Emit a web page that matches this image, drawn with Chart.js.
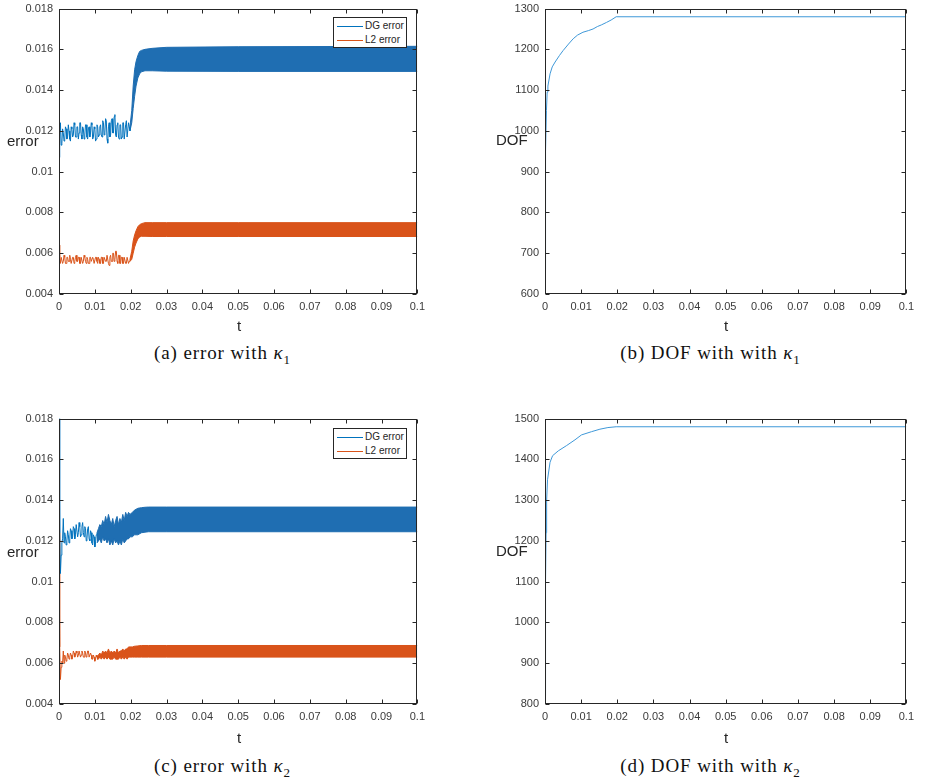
<!DOCTYPE html>
<html lang="en">
<head>
<meta charset="UTF-8">
<title>error and DOF</title>
<script src="https://cdn.jsdelivr.net/npm/chart.js@4.4.0/dist/chart.umd.min.js"></script>
<style>
  body { margin: 0; background: #fff; }
  #page { position: relative; width: 926px; height: 781px; overflow: hidden; font-family: "Liberation Sans", Arial, sans-serif; }
  canvas { position: absolute; }
  .ylab { position: absolute; font-size: 15px; line-height: 18px; color: #262626; }
  .xlab { position: absolute; width: 40px; margin-left: -20px; text-align: center; font-size: 15px; line-height: 18px; color: #262626; }
  .cap { position: absolute; width: 340px; margin-left: -170px; text-align: center; font-family: "Liberation Serif", "DejaVu Serif", serif; font-size: 19px; letter-spacing: 0.9px; line-height: 22px; color: #111; }
  .cap sub { font-size: 13px; letter-spacing: 0; }
  .legend { position: absolute; width: 72px; height: 29px; border: 1px solid #262626; background: #fff; font-size: 10px; color: #262626; }
  .legend .row { position: relative; height: 14px; line-height: 14px; padding-left: 31px; }
  .legend .row:first-child { margin-top: 1px; }
  .legend .smp { position: absolute; left: 3px; top: 7px; width: 26px; height: 0; border-top: 1px solid; }
</style>
</head>
<body>
<div id="page">
  <canvas id="chartA"></canvas>
  <canvas id="chartB"></canvas>
  <canvas id="chartC"></canvas>
  <canvas id="chartD"></canvas>

  <div class="ylab" style="left:7px; top:132px;">error</div>
  <div class="ylab" style="left:496px; top:131px;">DOF</div>
  <div class="ylab" style="left:7px; top:543px;">error</div>
  <div class="ylab" style="left:496px; top:542px;">DOF</div>

  <div class="xlab" style="left:239px; top:317px;">t</div>
  <div class="xlab" style="left:726px; top:317px;">t</div>
  <div class="xlab" style="left:239px; top:729px;">t</div>
  <div class="xlab" style="left:726px; top:729px;">t</div>

  <div class="cap" style="left:222px; top:342px;">(a) error with <i>κ</i><sub>1</sub></div>
  <div class="cap" style="left:710px; top:342px;">(b) DOF with with <i>κ</i><sub>1</sub></div>
  <div class="cap" style="left:222px; top:755px;">(c) error with <i>κ</i><sub>2</sub></div>
  <div class="cap" style="left:710px; top:755px;">(d) DOF with with <i>κ</i><sub>2</sub></div>

  <div class="legend" style="left:333px; top:17px;">
    <div class="row"><span class="smp" style="color:#0072BD"></span>DG error</div>
    <div class="row"><span class="smp" style="color:#D95319"></span>L2 error</div>
  </div>
  <div class="legend" style="left:333px; top:428px;">
    <div class="row"><span class="smp" style="color:#0072BD"></span>DG error</div>
    <div class="row"><span class="smp" style="color:#D95319"></span>L2 error</div>
  </div>
</div>

<script>
// axis ticks
const xTickValues = [0, 0.01, 0.02, 0.03, 0.04, 0.05, 0.06, 0.07, 0.08, 0.09, 0.1];
const xTickLabels = ['0', '0.01', '0.02', '0.03', '0.04', '0.05', '0.06', '0.07', '0.08', '0.09', '0.1'];
const errTickValues = [0.004, 0.006, 0.008, 0.01, 0.012, 0.014, 0.016, 0.018];
const errTickLabels = ['0.004', '0.006', '0.008', '0.01', '0.012', '0.014', '0.016', '0.018'];
const dofTickValuesB = [600, 700, 800, 900, 1000, 1100, 1200, 1300];
const dofTickLabelsB = ['600', '700', '800', '900', '1000', '1100', '1200', '1300'];
const dofTickValuesD = [800, 900, 1000, 1100, 1200, 1300, 1400, 1500];
const dofTickLabelsD = ['800', '900', '1000', '1100', '1200', '1300', '1400', '1500'];

// (a) error with kappa1 : noisy start, t = 0 .. 0.0198
const tEarlyA = [0, 0.0002, 0.0004, 0.0006, 0.0008, 0.001, 0.0012, 0.0014, 0.0016, 0.0018,
  0.002, 0.0022, 0.0024, 0.0026, 0.0028, 0.003, 0.0032, 0.0034, 0.0036, 0.0038,
  0.004, 0.0042, 0.0044, 0.0046, 0.0048, 0.005, 0.0052, 0.0054, 0.0056, 0.0058,
  0.006, 0.0062, 0.0064, 0.0066, 0.0068, 0.007, 0.0072, 0.0074, 0.0076, 0.0078,
  0.008, 0.0082, 0.0084, 0.0086, 0.0088, 0.009, 0.0092, 0.0094, 0.0096, 0.0098,
  0.01, 0.0102, 0.0104, 0.0106, 0.0108, 0.011, 0.0112, 0.0114, 0.0116, 0.0118,
  0.012, 0.0122, 0.0124, 0.0126, 0.0128, 0.013, 0.0132, 0.0134, 0.0136, 0.0138,
  0.014, 0.0142, 0.0144, 0.0146, 0.0148, 0.015, 0.0152, 0.0154, 0.0156, 0.0158,
  0.016, 0.0162, 0.0164, 0.0166, 0.0168, 0.017, 0.0172, 0.0174, 0.0176, 0.0178,
  0.018, 0.0182, 0.0184, 0.0186, 0.0188, 0.019, 0.0192, 0.0194, 0.0196, 0.0198];
const dgEarlyA = [0.0107, 0.0118, 0.0124, 0.0113, 0.0114, 0.0121, 0.0119, 0.0115, 0.0116, 0.0122,
  0.0121, 0.0116, 0.0117, 0.0123, 0.0120, 0.0116, 0.0115, 0.0122, 0.0121, 0.0117,
  0.0118, 0.0124, 0.0123, 0.0117, 0.0117, 0.0122, 0.0122, 0.0116, 0.0119, 0.0124,
  0.0124, 0.0118, 0.0116, 0.0122, 0.0121, 0.0116, 0.0118, 0.0123, 0.0123, 0.0117,
  0.0116, 0.0121, 0.0122, 0.0117, 0.0119, 0.0124, 0.0123, 0.0116, 0.0117, 0.0122,
  0.0121, 0.0115, 0.0116, 0.0123, 0.0122, 0.0117, 0.0118, 0.0122, 0.0123, 0.0118,
  0.0117, 0.0125, 0.0124, 0.0118, 0.0119, 0.0126, 0.0125, 0.0116, 0.0114, 0.0122,
  0.0124, 0.0117, 0.0118, 0.0125, 0.0126, 0.0119, 0.0119, 0.0127, 0.0128, 0.0118,
  0.0117, 0.0123, 0.0124, 0.0117, 0.0116, 0.0123, 0.0123, 0.0116, 0.0117, 0.0124,
  0.0124, 0.0116, 0.0116, 0.0123, 0.0125, 0.0117, 0.0117, 0.0124, 0.0122, 0.0120];
const l2EarlyA = [0.0064, 0.0058, 0.0055, 0.0058, 0.0058, 0.0055, 0.0056, 0.0059, 0.0058, 0.0055,
  0.0055, 0.0058, 0.0058, 0.0056, 0.0056, 0.0059, 0.0057, 0.0055, 0.0055, 0.0058,
  0.0058, 0.0055, 0.0056, 0.0058, 0.0059, 0.0056, 0.0056, 0.0058, 0.0058, 0.0055,
  0.0055, 0.0058, 0.0058, 0.0055, 0.0056, 0.0059, 0.0058, 0.0056, 0.0055, 0.0058,
  0.0057, 0.0055, 0.0055, 0.0058, 0.0058, 0.0056, 0.0056, 0.0058, 0.0057, 0.0055,
  0.0055, 0.0058, 0.0058, 0.0056, 0.0055, 0.0058, 0.0057, 0.0055, 0.0055, 0.0058,
  0.0058, 0.0055, 0.0055, 0.0058, 0.0058, 0.0056, 0.0056, 0.0059, 0.0059, 0.0055,
  0.0054, 0.0058, 0.0059, 0.0056, 0.0056, 0.0060, 0.0060, 0.0056, 0.0057, 0.0061,
  0.0061, 0.0056, 0.0055, 0.0059, 0.0059, 0.0055, 0.0055, 0.0058, 0.0058, 0.0055,
  0.0055, 0.0058, 0.0058, 0.0055, 0.0055, 0.0058, 0.0058, 0.0055, 0.0056, 0.0057];
// (a) oscillation band: upper / lower envelopes
const tBandA = [0.0198, 0.0203, 0.0207, 0.0211, 0.0215, 0.022, 0.0225, 0.023, 0.024, 0.026, 0.03, 0.05, 0.1];
const dgUpA = [0.0122, 0.0130, 0.0142, 0.0150, 0.0154, 0.0157, 0.0159, 0.01595, 0.0160, 0.01605, 0.0161, 0.01613, 0.01615];
const dgLoA = [0.0120, 0.0124, 0.0131, 0.0137, 0.0142, 0.0146, 0.0148, 0.0149, 0.01495, 0.01495, 0.01493, 0.01492, 0.01492];
const l2UpA = [0.0057, 0.0061, 0.0066, 0.0069, 0.0071, 0.0073, 0.0074, 0.00745, 0.0075, 0.0075, 0.0075, 0.0075, 0.0075];
const l2LoA = [0.0056, 0.0057, 0.0060, 0.0063, 0.0065, 0.0067, 0.0068, 0.00683, 0.00683, 0.00682, 0.00682, 0.00682, 0.00682];

// (b) DOF with kappa1
const tDofB = [0, 0.0001, 0.0002, 0.0004, 0.0006, 0.0008, 0.0014, 0.002, 0.0028, 0.004, 0.005, 0.0065,
  0.0078, 0.009, 0.0105, 0.012, 0.0133, 0.0145, 0.0156, 0.017, 0.0183, 0.0197, 0.1];
const dofB = [660, 800, 950, 1050, 1095, 1110, 1140, 1157, 1169, 1185, 1197, 1213,
  1226, 1235, 1242, 1246, 1250, 1256, 1260, 1266, 1272, 1280, 1280];

// (c) error with kappa2 : noisy start, t = 0 .. 0.0106
const tEarlyC = [0, 0.0002, 0.0004, 0.0006, 0.0008, 0.001, 0.0012, 0.0014, 0.0016, 0.0018,
  0.002, 0.0022, 0.0024, 0.0026, 0.0028, 0.003, 0.0032, 0.0034, 0.0036, 0.0038,
  0.004, 0.0042, 0.0044, 0.0046, 0.0048, 0.005, 0.0052, 0.0054, 0.0056, 0.0058,
  0.006, 0.0062, 0.0064, 0.0066, 0.0068, 0.007, 0.0072, 0.0074, 0.0076, 0.0078,
  0.008, 0.0082, 0.0084, 0.0086, 0.0088, 0.009, 0.0092, 0.0094, 0.0096, 0.0098,
  0.01, 0.0102, 0.0104, 0.0106];
const dgEarlyC = [0.0180, 0.0124, 0.0104, 0.0113, 0.0119, 0.0121, 0.0131, 0.0119, 0.0124, 0.0122,
  0.0118, 0.0120, 0.0125, 0.0123, 0.0119, 0.0121, 0.0126, 0.0125, 0.0121, 0.0122,
  0.0127, 0.0126, 0.0121, 0.0123, 0.0128, 0.0128, 0.0122, 0.0124, 0.0129, 0.0127,
  0.0122, 0.0123, 0.0127, 0.0129, 0.0124, 0.0122, 0.0127, 0.0126, 0.0120, 0.0121,
  0.0126, 0.0127, 0.0121, 0.0120, 0.0125, 0.0124, 0.0119, 0.0118, 0.0123, 0.0122,
  0.0117, 0.0119, 0.0123, 0.0124];
const l2EarlyC = [0.0124, 0.0068, 0.0052, 0.0058, 0.0061, 0.0060, 0.0066, 0.0060, 0.0064, 0.0063,
  0.0061, 0.0062, 0.0065, 0.0064, 0.0062, 0.0063, 0.0065, 0.0064, 0.0062, 0.0063,
  0.0066, 0.0065, 0.0063, 0.0064, 0.0066, 0.0065, 0.0063, 0.0064, 0.0066, 0.0066,
  0.0063, 0.0064, 0.0066, 0.0065, 0.0063, 0.0063, 0.0066, 0.0065, 0.0063, 0.0064,
  0.0066, 0.0066, 0.0063, 0.0063, 0.0065, 0.0064, 0.0062, 0.0062, 0.0064, 0.0063,
  0.0061, 0.0062, 0.0064, 0.0063];
// (c) oscillation band
const tBandC = [0.0106, 0.011, 0.0114, 0.0118, 0.0122, 0.0126, 0.013, 0.0134, 0.0138, 0.0142,
  0.0146, 0.015, 0.0154, 0.0158, 0.0162, 0.0166, 0.017, 0.0174, 0.0178, 0.0182,
  0.0186, 0.019, 0.0194, 0.0198, 0.0205, 0.021, 0.022, 0.023, 0.024, 0.025, 0.03, 0.1];
const dgUpC = [0.0124, 0.0126, 0.0128, 0.0127, 0.0130, 0.0128, 0.0132, 0.0129, 0.0133, 0.0130,
  0.0128, 0.0131, 0.0127, 0.0130, 0.0132, 0.0128, 0.0131, 0.0129, 0.0133, 0.0130,
  0.0134, 0.0132, 0.0134, 0.0133, 0.0134, 0.0135, 0.0136, 0.01363, 0.01365, 0.01366, 0.01366, 0.01366];
const dgLoC = [0.0119, 0.0120, 0.0121, 0.0119, 0.0122, 0.0120, 0.0121, 0.0119, 0.0121, 0.0118,
  0.0120, 0.0118, 0.0121, 0.0119, 0.0120, 0.0118, 0.0120, 0.0118, 0.0121, 0.0119,
  0.0120, 0.0121, 0.0121, 0.0122, 0.0122, 0.0123, 0.0123, 0.0124, 0.01243, 0.01245, 0.01245, 0.01245];
const l2UpC = [0.0063, 0.0064, 0.0065, 0.0064, 0.0066, 0.0065, 0.0066, 0.0065, 0.0067, 0.0065,
  0.0066, 0.0065, 0.0066, 0.0065, 0.0067, 0.0065, 0.0066, 0.0066, 0.0067, 0.0066,
  0.0067, 0.0067, 0.0068, 0.0068, 0.0068, 0.00683, 0.00685, 0.00687, 0.00687, 0.00687, 0.00687, 0.00687];
const l2LoC = [0.0062, 0.0062, 0.0063, 0.0062, 0.0063, 0.0062, 0.0063, 0.0062, 0.0063, 0.0062,
  0.0062, 0.0062, 0.0063, 0.0062, 0.0062, 0.0062, 0.0063, 0.0062, 0.0063, 0.0062,
  0.0063, 0.0062, 0.0063, 0.0063, 0.0063, 0.0063, 0.0063, 0.0063, 0.0063, 0.0063, 0.0063, 0.0063];

// (d) DOF with kappa2
const tDofD = [0, 0.0001, 0.0002, 0.0003, 0.00045, 0.0007, 0.0014, 0.0021, 0.0037, 0.006, 0.0083,
  0.0101, 0.0129, 0.0152, 0.0174, 0.0197, 0.1];
const dofD = [820, 950, 1100, 1220, 1300, 1350, 1393, 1409, 1421, 1434, 1448,
  1460, 1468, 1474, 1478, 1480, 1480];

const BLUE = '#0072BD', BLUE_FILL = '#1F6EB2';
const ORANGE = '#D95319', ORANGE_FILL = '#D9531A';
const DOF_BLUE = '#3F98D8';
const tickColor = '#3a3a3a';
const tickFont = { family: '"Liberation Sans", Arial, sans-serif', size: 11 };

const pts = (xs, ys) => xs.map((x, i) => ({ x: x, y: ys[i] }));

// box round the axes with inward ticks on all four sides
const frame = {
  id: 'frame',
  afterDatasetsDraw(chart) {
    const { ctx, chartArea: a, scales: { x, y } } = chart;
    const L = Math.round(a.left) + 0.5, R = Math.round(a.right) - 0.5;
    const T = Math.round(a.top) + 0.5, B = Math.round(a.bottom) - 0.5;
    ctx.save();
    ctx.strokeStyle = '#262626';
    ctx.lineWidth = 1;
    ctx.strokeRect(L, T, R - L, B - T);
    ctx.beginPath();
    x.ticks.forEach(t => {
      const p = Math.round(x.getPixelForValue(t.value)) + 0.5;
      ctx.moveTo(p, B); ctx.lineTo(p, B - 4);
      ctx.moveTo(p, T); ctx.lineTo(p, T + 4);
    });
    y.ticks.forEach(t => {
      const p = Math.round(y.getPixelForValue(t.value)) + 0.5;
      ctx.moveTo(L, p); ctx.lineTo(L + 4, p);
      ctx.moveTo(R, p); ctx.lineTo(R - 4, p);
    });
    ctx.stroke();
    ctx.restore();
  }
};

function makePanel(id, box, datasets, yValues, yLabels) {
  const cv = document.getElementById(id);
  const left = box.l - 60, top = box.t - 10;
  cv.width = box.r - left + 12;
  cv.height = box.b - top + 28;
  cv.style.left = left + 'px';
  cv.style.top = top + 'px';
  return new Chart(cv, {
    type: 'line',
    data: { datasets: datasets },
    options: {
      responsive: false,
      animation: false,
      devicePixelRatio: 1,
      layout: { padding: { top: 10, right: 12, left: 0, bottom: 0 } },
      plugins: { legend: { display: false }, tooltip: { enabled: false } },
      elements: { point: { radius: 0 }, line: { tension: 0, borderWidth: 1 } },
      scales: {
        x: {
          type: 'linear', min: 0, max: 0.1,
          grid: { display: false, drawTicks: false }, border: { display: false },
          afterBuildTicks: s => { s.ticks = xTickValues.map(v => ({ value: v })); },
          afterFit: s => { s.height = 28; },
          ticks: { callback: (v, i) => xTickLabels[i], maxRotation: 0, autoSkip: false, padding: 6, color: tickColor, font: tickFont }
        },
        y: {
          type: 'linear', min: yValues[0], max: yValues[yValues.length - 1],
          grid: { display: false, drawTicks: false }, border: { display: false },
          afterBuildTicks: s => { s.ticks = yValues.map(v => ({ value: v })); },
          afterFit: s => { s.width = 60; },
          ticks: { callback: (v, i) => yLabels[i], autoSkip: false, padding: 6, color: tickColor, font: tickFont }
        }
      }
    },
    plugins: [frame]
  });
}

function errorSets(tE, dgE, l2E, tB, dgU, dgL, l2U, l2L) {
  return [
    { data: pts(tE, dgE), borderColor: BLUE, fill: false },
    { data: pts(tB, dgU), borderColor: BLUE_FILL, fill: false },
    { data: pts(tB, dgL), borderColor: BLUE_FILL, backgroundColor: BLUE_FILL, fill: '-1' },
    { data: pts(tE, l2E), borderColor: ORANGE, fill: false },
    { data: pts(tB, l2U), borderColor: ORANGE_FILL, fill: false },
    { data: pts(tB, l2L), borderColor: ORANGE_FILL, backgroundColor: ORANGE_FILL, fill: '-1' }
  ];
}

makePanel('chartA', { l: 59, t: 6, r: 419, b: 294 },
  errorSets(tEarlyA, dgEarlyA, l2EarlyA, tBandA, dgUpA, dgLoA, l2UpA, l2LoA),
  errTickValues, errTickLabels);

makePanel('chartB', { l: 545, t: 6, r: 908, b: 294 },
  [{ data: pts(tDofB, dofB), borderColor: DOF_BLUE, fill: false }],
  dofTickValuesB, dofTickLabelsB);

makePanel('chartC', { l: 59, t: 416, r: 419, b: 704 },
  errorSets(tEarlyC, dgEarlyC, l2EarlyC, tBandC, dgUpC, dgLoC, l2UpC, l2LoC),
  errTickValues, errTickLabels);

makePanel('chartD', { l: 545, t: 416, r: 908, b: 704 },
  [{ data: pts(tDofD, dofD), borderColor: DOF_BLUE, fill: false }],
  dofTickValuesD, dofTickLabelsD);
</script>
</body>
</html>
